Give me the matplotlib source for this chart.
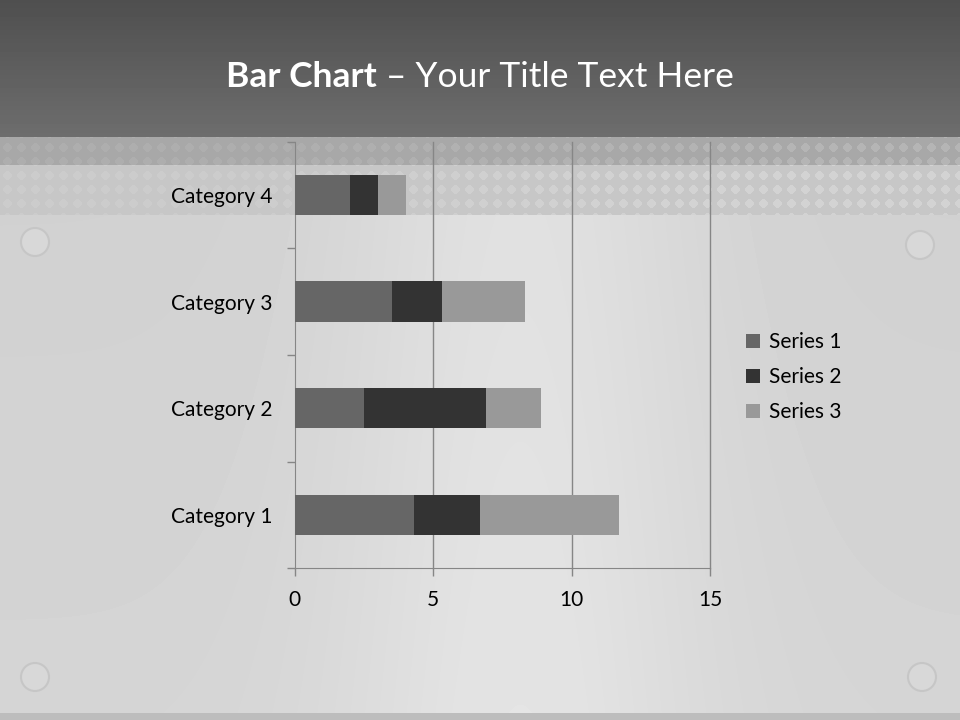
import numpy as np
import matplotlib.pyplot as plt
from matplotlib.patches import Circle

# chart data
categories = ["Category 1", "Category 2", "Category 3", "Category 4"]
series_names = ["Series 1", "Series 2", "Series 3"]
series_1 = [4.3, 2.5, 3.5, 2.0]
series_2 = [2.4, 4.4, 1.8, 1.0]
series_3 = [5.0, 2.0, 3.0, 1.0]
colors = ["#666666", "#333333", "#999999"]
x_ticks = [0, 5, 10, 15]

plt.rcParams['font.family'] = ['Lato', 'DejaVu Sans']

W, H = 960, 720
fig = plt.figure(figsize=(9.6, 7.2), dpi=100)

# --- slide background ---
yy, xx = np.mgrid[0:H, 0:W]
bg = np.zeros((H, W))
# dark header band
top = yy < 137
bg[top] = 0.31 + 0.12 * (yy[top] / 137.0)
# dotted metal band
band = (yy >= 137) & (yy < 215)
base = np.where(yy < 165, 0.66, 0.78)
dots = ((xx % 14 - 7) ** 2 + (yy % 14 - 7) ** 2) < 18
fade = 0.4 + 0.6 * np.clip((xx - 250) / 500.0, 0, 1)
bg[band] = (base + 0.05 * dots * fade)[band]
# brushed light body
body = yy >= 215
streak = 0.06 * np.exp(-((xx - 520) / 180.0) ** 2)
bg[body] = (0.82 + streak + 0.015 * (yy - 215) / 505.0)[body]
bg[(yy >= 713)] = 0.74
ax_bg = fig.add_axes([0, 0, 1, 1], zorder=-10)
ax_bg.imshow(bg, cmap="gray", vmin=0, vmax=1, extent=[0, W, H, 0], aspect="auto")
for cx, cy in [(35, 242), (920, 245), (35, 677), (922, 677)]:
    ax_bg.add_patch(Circle((cx, cy), 14, facecolor="#d8d8d8", edgecolor="#c6c6c6", lw=1.5))
ax_bg.set_xlim(0, W)
ax_bg.set_ylim(H, 0)
ax_bg.axis("off")

# title
t1 = fig.text(0.2355, 0.893, "Bar Chart", ha="left", va="center", color="white",
              fontsize=25.5, fontweight="bold")
fig.canvas.draw()
bb = t1.get_window_extent()
fig.text(bb.x1 / W, 0.893, " \u2013 Your Title Text Here", ha="left", va="center",
         color="white", fontsize=25.5)

# --- chart ---
ax = fig.add_axes([0.307, 0.211, 0.433, 0.592])
ax.patch.set_alpha(0)
y = np.arange(len(categories))
left = np.zeros(len(categories))
for name, vals, c in zip(series_names, [series_1, series_2, series_3], colors):
    ax.barh(y, vals, left=left, height=0.38, color=c, label=name, zorder=3)
    left += np.array(vals)

ax.set_xlim(0, 15)
ax.set_ylim(-0.5, len(categories) - 0.5)
ax.set_xticks(x_ticks)
ax.set_yticks(y)
ax.set_yticklabels(categories)
ax.set_yticks(np.arange(-0.5, len(categories)), minor=True)
ax.tick_params(axis="y", which="major", length=0, pad=16, labelsize=15)
ax.tick_params(axis="y", which="minor", length=6, color="#868686", width=1)
ax.tick_params(axis="x", length=6, color="#868686", width=1, labelsize=15, pad=10)
for xv in x_ticks[1:]:
    ax.axvline(xv, color="#868686", lw=1, zorder=1, clip_on=False)
for side in ["top", "right"]:
    ax.spines[side].set_visible(False)
for side in ["left", "bottom"]:
    ax.spines[side].set_color("#868686")

leg = fig.legend(loc="upper left", bbox_to_anchor=(0.758, 0.565), frameon=False,
                 fontsize=15, handlelength=0.65, handleheight=0.65, handletextpad=0.45,
                 labelspacing=0.72)

fig.savefig("out.png", dpi=100)
